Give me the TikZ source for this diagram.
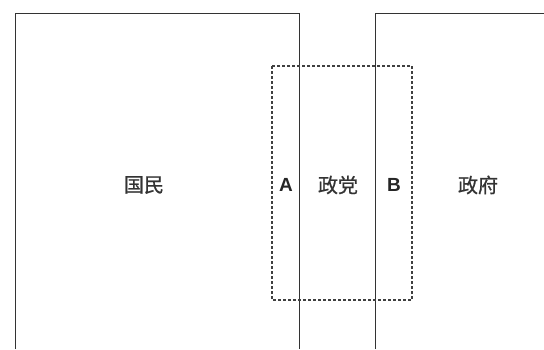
\documentclass[tikz,border=0pt]{standalone}
\usepackage{fontspec}
\setmainfont{Liberation Sans}
\newfontfamily\cjk[FakeBold=0.8]{Noto Sans CJK SC}
\begin{document}
\begin{tikzpicture}[x=1pt,y=-1pt,
  solidline/.style={draw=black!80,line width=1.9pt},
  dashline/.style={draw=black!75,line width=1.6pt,dash pattern=on 3pt off 2pt},
  cjklabel/.style={font=\cjk\fontsize{20}{22}\selectfont,text=black!80,inner sep=0pt},
  letterlabel/.style={font=\bfseries\fontsize{19}{22}\selectfont,text=black!85,inner sep=0pt}]
\useasboundingbox (0,0) rectangle (544,349);
\fill[white] (0,0) rectangle (544,349);
% left box (open at bottom)
\coordinate (l1) at (15.5,349);
\coordinate (l2) at (15.5,13.5);
\coordinate (l3) at (299.5,13.5);
\coordinate (l4) at (299.5,349);
\draw[solidline] (l1) -- (l2) -- (l3) -- (l4);
% right box (open at bottom and right)
\coordinate (r1) at (375.5,349);
\coordinate (r2) at (375.5,13.5);
\coordinate (r3) at (544,13.5);
\draw[solidline] (r1) -- (r2) -- (r3);
% dashed box
\draw[dashline] (272,66) rectangle (412,300);
% labels
\node[cjklabel] (kokumin) at (144,185) {国民};
\node[letterlabel] (A) at (286,185) {A};
\node[cjklabel] (seito) at (338,185) {政党};
\node[letterlabel] (B) at (394,185) {B};
\node[cjklabel] (seifu) at (478,185) {政府};
\end{tikzpicture}
\end{document}
